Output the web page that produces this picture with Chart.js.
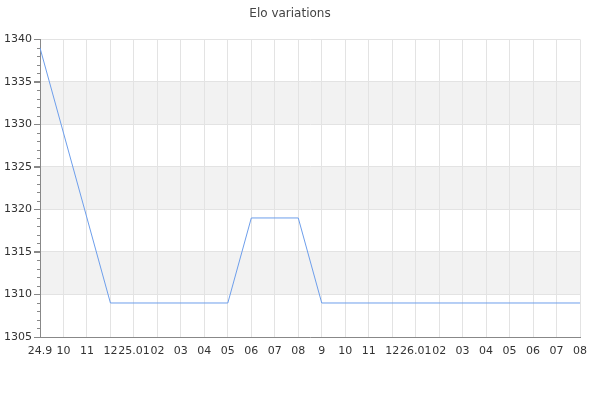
<!DOCTYPE html>
<html>
<head>
<meta charset="utf-8">
<script src="https://cdn.jsdelivr.net/npm/chart.js@4/dist/chart.umd.min.js"></script>
<style>
html,body{margin:0;padding:0;background:#fff;}
#wrap{width:600px;height:400px;}
</style>
</head>
<body>
<div id="wrap"><canvas id="c" width="600" height="400"></canvas></div>
<script>
const labels = ["24.9","10","11","12","25.01","02","03","04","05","06","07","08","9","10","11","12","26.01","02","03","04","05","06","07","08"];
const eloValues = [1339,null,null,1309,null,null,null,null,1309,1319,null,1319,1309,null,null,null,null,null,null,null,null,null,null,1309];
const yTicks = [1305,1310,1315,1320,1325,1330,1335,1340];
const bandPairs = [[1330,1335],[1320,1325],[1310,1315]];

const bandsPlugin = {
  id: 'bands',
  beforeDraw(chart) {
    const {ctx, chartArea, scales} = chart;
    const y = scales.y;
    ctx.save();
    ctx.fillStyle = '#f2f2f2';
    bandPairs.forEach(([lo, hi]) => {
      const yTop = y.getPixelForValue(hi);
      const yBot = y.getPixelForValue(lo);
      ctx.fillRect(chartArea.left, yTop, chartArea.right - chartArea.left, yBot - yTop);
    });
    ctx.restore();
  },
  afterDraw(chart) {
    const {ctx, scales} = chart;
    const y = scales.y;
    const x0 = chart.chartArea.left;
    ctx.save();
    ctx.strokeStyle = '#888';
    ctx.lineWidth = 1;
    for (let v = y.min; v <= y.max; v++) {
      const major = yTicks.includes(v);
      const py = Math.round(y.getPixelForValue(v)) + 0.5;
      ctx.beginPath();
      ctx.moveTo(x0 - (major ? 6 : 3), py);
      ctx.lineTo(x0, py);
      ctx.stroke();
    }
    ctx.restore();
  }
};

new Chart(document.getElementById('c'), {
  type: 'line',
  data: {
    labels: labels,
    datasets: [{
      label: 'Elo',
      data: eloValues,
      borderColor: '#6d9eeb',
      borderWidth: 1,
      pointRadius: 0,
      tension: 0,
      spanGaps: true,
      fill: false
    }]
  },
  options: {
    responsive: false,
    animation: false,
    layout: { padding: { left: 0, right: 20, top: 0, bottom: 0 } },
    plugins: {
      legend: { display: false },
      tooltip: { enabled: false },
      title: {
        display: true,
        text: 'Elo variations',
        color: '#444',
        font: { family: 'DejaVu Sans', size: 12, weight: 'normal' },
        padding: { top: 7, bottom: 18 }
      }
    },
    scales: {
      x: {
        offset: false,
        grid: { color: '#e3e3e3', drawTicks: false },
        border: { color: '#888' },
        ticks: {
          autoSkip: false, maxRotation: 0, minRotation: 0,
          color: '#333', padding: 8,
          font: { family: 'DejaVu Sans', size: 11 }
        },
        afterFit(s) { s.height = 63; }
      },
      y: {
        min: 1305, max: 1340,
        afterBuildTicks(s) { s.ticks = yTicks.map(v => ({value: v})); },
        grid: { color: '#e3e3e3', tickColor: '#888', tickLength: 6 },
        border: { color: '#888' },
        ticks: {
          color: '#333', padding: 2,
          font: { family: 'DejaVu Sans', size: 11 },
          callback: (v) => String(v)
        },
        afterFit(s) { s.width = 40; }
      }
    }
  },
  plugins: [bandsPlugin]
});
</script>
</body>
</html>
